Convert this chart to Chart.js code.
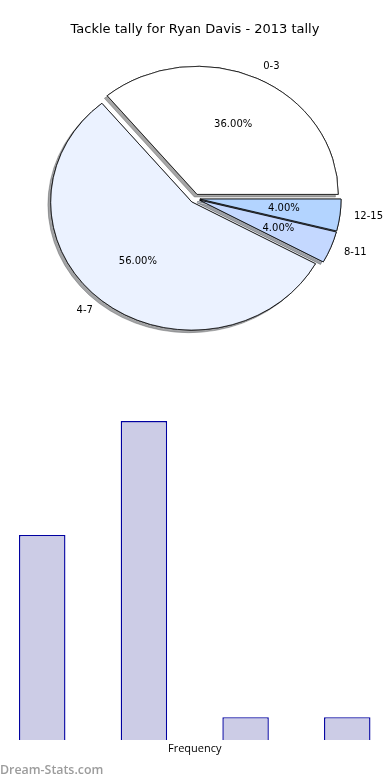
<!DOCTYPE html>
<html><head><meta charset="utf-8">
<script src="https://cdn.jsdelivr.net/npm/chart.js@4/dist/chart.umd.min.js"></script>
<style>
html,body{margin:0;padding:0;background:#fff;overflow:hidden;width:390px;height:780px;position:relative;}
#pieWrap{position:absolute;left:0;top:0;width:390px;height:400px;}
#barWrap{position:absolute;left:-10px;top:400px;width:410px;height:380px;}
#wm{position:absolute;left:0;top:761px;font:600 12.4px 'Open Sans';color:#9c9c9c;white-space:nowrap;}
</style></head><body>
<div id="pieWrap"><canvas id="pie"></canvas></div>
<div id="barWrap"><canvas id="bar"></canvas></div>
<div id="wm">Dream-Stats.com</div>
<script>
// ---- data ----
const categories = ['0-3', '4-7', '8-11', '12-15'];
const frequencies = [9, 14, 1, 1];
const sliceColors = ['#ffffff', '#ebf2ff', '#c4d8ff', '#b3d4ff'];
const titleText = 'Tackle tally for Ryan Davis - 2013 tally';
const axisTitle = 'Frequency';

// ---- matplotlib-like pie look ----
const K = 128 / 141;        // vertical squash of the pie
const EXPLODE = 5;          // radial explode offset (px)
const SHADOW_X = -2.8, SHADOW_Y = 2.6;

function hexToRgb(h) {
  h = h.replace('#', '');
  return [0, 2, 4].map(i => parseInt(h.substr(i, 2), 16));
}

const piePlugin = {
  id: 'mplPie',
  beforeDatasetsDraw(chart) {
    const ctx = chart.ctx;
    const arcs = chart.getDatasetMeta(0).data;
    if (!arcs.length) return false;
    const cx = arcs[0].x, cy = arcs[0].y;
    const drawAll = (withShadow) => {
      arcs.forEach((arc) => {
        ctx.save();
        ctx.translate(cx, cy); ctx.scale(1, -K); ctx.translate(-cx, -cy);
        const h = (arc.startAngle + arc.endAngle) / 2;
        ctx.translate(Math.cos(h) * EXPLODE, Math.sin(h) * EXPLODE);
        if (withShadow) {
          const c = hexToRgb(arc.options.backgroundColor);
          ctx.shadowColor = 'rgba(' + c.map(v => Math.round(v * 0.3)).join(',') + ',0.5)';
          ctx.shadowOffsetX = SHADOW_X;
          ctx.shadowOffsetY = SHADOW_Y;
          ctx.shadowBlur = 0;
        }
        arc.draw(ctx);
        ctx.restore();
      });
    };
    drawAll(true);
    drawAll(false);
    return false;
  },
  afterDraw(chart) {
    const ctx = chart.ctx;
    const arcs = chart.getDatasetMeta(0).data;
    if (!arcs.length) return;
    const cx = arcs[0].x, cy = arcs[0].y;
    const total = frequencies.reduce((a, b) => a + b, 0);
    ctx.save();
    ctx.font = '10px "DejaVu Sans"';
    ctx.fillStyle = '#000';
    ctx.textBaseline = 'middle';
    arcs.forEach((arc, i) => {
      const h = (arc.startAngle + arc.endAngle) / 2;
      const r = arc.outerRadius;
      const ex = cx + EXPLODE * Math.cos(h), ey = cy - K * EXPLODE * Math.sin(h);
      const lx = ex + 1.1 * r * Math.cos(h), ly = ey - K * 1.1 * r * Math.sin(h);
      ctx.textAlign = Math.cos(h) > 0 ? 'left' : 'right';
      ctx.fillText(categories[i], lx, ly);
      const px = ex + 0.6 * r * Math.cos(h), py = ey - K * 0.6 * r * Math.sin(h);
      ctx.textAlign = 'center';
      ctx.fillText((frequencies[i] / total * 100).toFixed(2) + '%', px, py);
    });
    ctx.restore();
  }
};

new Chart(document.getElementById('pie'), {
  type: 'pie',
  data: {
    labels: categories,
    datasets: [{
      data: frequencies,
      backgroundColor: sliceColors,
      borderColor: '#000000',
      borderWidth: 0.8,
      borderJoinStyle: 'miter',
      offset: 0
    }]
  },
  options: {
    responsive: true,
    maintainAspectRatio: false,
    animation: false,
    rotation: 90,
    layout: { padding: { left: 53.5, right: 53.5, top: 0, bottom: 60 } },
    plugins: {
      legend: { display: false },
      tooltip: { enabled: false },
      title: {
        display: true,
        text: titleText,
        color: '#000',
        font: { family: 'DejaVu Sans', size: 13, weight: 'normal', lineHeight: 1.2 },
        padding: { top: 22, bottom: 19.4 }
      }
    }
  },
  plugins: [piePlugin]
});

new Chart(document.getElementById('bar'), {
  type: 'bar',
  data: {
    labels: categories,
    datasets: [{
      data: frequencies,
      backgroundColor: '#cccce6',
      borderColor: '#0000a0',
      borderWidth: 1.4,
      categoryPercentage: 1,
      barPercentage: 0.457
    }]
  },
  options: {
    responsive: true,
    maintainAspectRatio: false,
    animation: false,
    layout: { padding: { left: 1.4, right: 1.9, top: 21, bottom: 24.8 } },
    plugins: { legend: { display: false }, tooltip: { enabled: false } },
    scales: {
      y: { display: false, min: 0, max: 14 },
      x: {
        display: true,
        grid: { display: false, drawTicks: false },
        border: { display: false },
        ticks: { display: false },
        title: {
          display: true,
          text: axisTitle,
          color: '#000',
          font: { family: 'Open Sans', size: 11, lineHeight: 1.2 },
          padding: { top: 2, bottom: 0 }
        }
      }
    }
  }
});
</script>
</body></html>
